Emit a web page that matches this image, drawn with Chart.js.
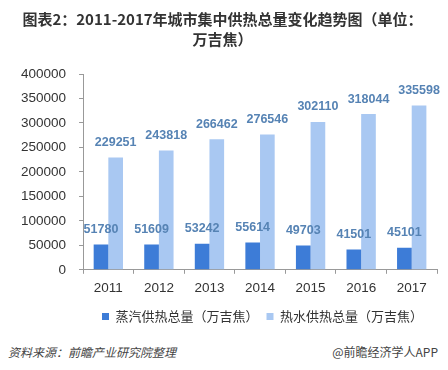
<!DOCTYPE html>
<html>
<head>
<meta charset="utf-8">
<script src="https://cdn.jsdelivr.net/npm/chart.js@4/dist/chart.umd.min.js"></script>
<style>
  html, body { margin: 0; padding: 0; background: #fff; }
  #wrap { position: relative; width: 448px; height: 370px; }
  .foot { position: absolute; top: 343px; font: 12px "Noto Sans CJK SC", sans-serif; color: #444; }
</style>
</head>
<body>
<div id="wrap">
  <canvas id="chart" width="448" height="340"></canvas>
  <div class="foot" style="left:8px;font-style:italic;">资料来源：前瞻产业研究院整理</div>
  <div class="foot" style="right:10px;">@前瞻经济学人APP</div>
</div>
<script>
const years = ['2011', '2012', '2013', '2014', '2015', '2016', '2017'];
const steam = [51780, 51609, 53242, 55614, 49703, 41501, 45101];
const hotWater = [229251, 243818, 266462, 276546, 302110, 318044, 335598];
const yTicks = [0, 50000, 100000, 150000, 200000, 250000, 300000, 350000, 400000];

const cjk = '"Noto Sans CJK SC", "Noto Sans", sans-serif';
const latin = '"Liberation Sans", Arial, sans-serif';

// value labels above each bar
const valueLabels = {
    id: 'valueLabels',
    afterDatasetsDraw(chart) {
        const ctx = chart.ctx;
        ctx.save();
        ctx.font = 'bold 12.5px ' + latin;
        ctx.fillStyle = '#5683b4';
        ctx.textAlign = 'center';
        ctx.textBaseline = 'middle';
        chart.data.datasets.forEach((ds, i) => {
            chart.getDatasetMeta(i).data.forEach((bar, j) => {
                ctx.fillText(ds.data[j], bar.x, bar.y - 15);
            });
        });
        ctx.restore();
    }
};

// legend sits a bit right of centre in the original
const legendShift = {
    id: 'legendShift',
    afterLayout(chart) {
        chart.legend.left += 40;
        chart.legend.right += 40;
    }
};

new Chart(document.getElementById('chart').getContext('2d'), {
    type: 'bar',
    data: {
        labels: years,
        datasets: [{
            label: '蒸汽供热总量（万吉焦）',
            data: steam,
            backgroundColor: '#3d7cd7',
            categoryPercentage: 0.58,
            barPercentage: 1
        }, {
            label: '热水供热总量（万吉焦）',
            data: hotWater,
            backgroundColor: '#a9c8f2',
            categoryPercentage: 0.58,
            barPercentage: 1
        }]
    },
    options: {
        responsive: false,
        animation: false,
        layout: { padding: { top: 8, right: 11, left: 8, bottom: 7 } },
        plugins: {
            title: {
                display: true,
                text: ['图表2：2011-2017年城市集中供热总量变化趋势图（单位：', '万吉焦）'],
                color: '#333',
                font: { family: cjk, size: 15, weight: 'bold', lineHeight: 1.3 },
                padding: { top: 2, bottom: 25 }
            },
            legend: {
                position: 'bottom',
                labels: {
                    boxWidth: 7,
                    boxHeight: 7,
                    color: '#333',
                    font: { family: cjk, size: 13 },
                    padding: 8
                }
            },
            tooltip: { enabled: false }
        },
        scales: {
            x: {
                grid: { drawOnChartArea: false, color: '#999', tickLength: 4 },
                border: { color: '#999' },
                ticks: { color: '#333', font: { family: latin, size: 13.5 }, padding: 6 }
            },
            y: {
                min: 0,
                max: 400000,
                afterBuildTicks(axis) {
                    axis.ticks = yTicks.map(v => ({ value: v }));
                },
                grid: { drawOnChartArea: false, color: '#999', tickLength: 4 },
                border: { color: '#999' },
                ticks: {
                    color: '#333',
                    font: { family: latin, size: 13.5 },
                    padding: 13,
                    callback: v => String(v)
                }
            }
        }
    },
    plugins: [valueLabels, legendShift]
});
</script>
</body>
</html>
